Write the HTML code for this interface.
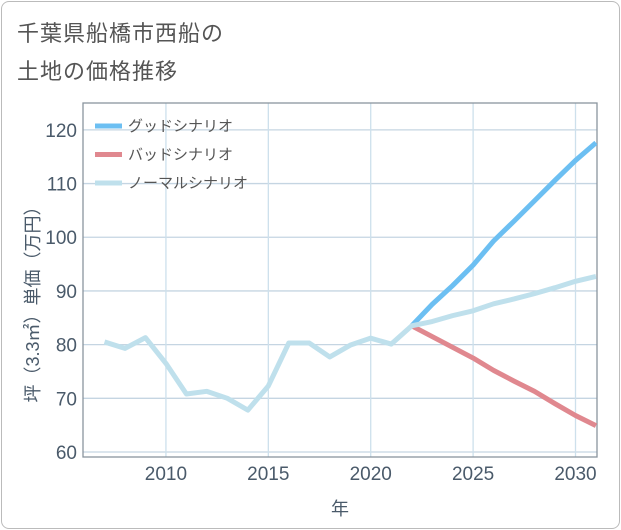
<!DOCTYPE html>
<html><head><meta charset="utf-8"><style>
body{margin:0;background:#fff;font-family:"Liberation Sans","Noto Sans CJK JP",sans-serif;}
#card{position:absolute;left:1px;top:1px;width:617px;height:526px;border:1px solid #bbb;border-radius:8px;background:#fff;}
.title{position:absolute;left:17px;font-size:22px;color:#555;letter-spacing:1px;}
</style></head><body>
<div id="card"></div>
<div class="title" style="top:16px">千葉県船橋市西船の</div>
<div class="title" style="top:54px">土地の価格推移</div>
<svg id="chart" width="621" height="530" style="position:absolute;left:0;top:0"></svg>
<script>
const years=[2007,2008,2009,2010,2011,2012,2013,2014,2015,2016,2017,2018,2019,2020,2021,2022,2023,2024,2025,2026,2027,2028,2029,2030,2031];
const normal=[80.5,79.3,81.3,76.5,70.8,71.3,70.0,67.8,72.3,80.3,80.3,77.7,79.9,81.2,80.1,83.5,84.3,85.4,86.3,87.6,88.5,89.5,90.6,91.8,92.7];
const futureYears=[2022,2023,2024,2025,2026,2027,2028,2029,2030,2031];
const good=[83.5,87.5,91.0,94.8,99.3,103.0,106.8,110.6,114.3,117.6];
const bad=[83.5,81.5,79.5,77.5,75.2,73.2,71.3,69.0,66.8,64.9];
const yTicks=[60,70,80,90,100,110,120];
const xTicks=[2010,2015,2020,2025,2030];
const L=83,R=597,T=103,B=457,X0=2005.95,X1=2031.05,Y0=59.07,Y1=125;
const xs=v=>L+(v-X0)/(X1-X0)*(R-L), ys=v=>B-(v-Y0)/(Y1-Y0)*(B-T);
const svg=document.getElementById('chart'),NS='http://www.w3.org/2000/svg';
function mk(t,a,p){const e=document.createElementNS(NS,t);for(const k in a)e.setAttribute(k,a[k]);(p||svg).appendChild(e);return e;}
const clip=mk('clipPath',{id:'pc'});mk('rect',{x:L,y:T,width:R-L,height:B-T},clip);
yTicks.forEach(v=>{const y=ys(v);
 const g=mk('line',{x1:L,x2:R,y1:y,y2:y,stroke:'#c5d5e2','stroke-width':1.3});
 
 const t=mk('text',{x:L-6,y:y+7,'text-anchor':'end','font-size':19,fill:'#4a5a6a'});t.textContent=v;
 });
xTicks.forEach(v=>{const x=xs(v);
 const g=mk('line',{x1:x,x2:x,y1:T,y2:B,stroke:'#cde0ec','stroke-width':1.3});
 
 const t=mk('text',{x:x,y:B+23,'text-anchor':'middle','font-size':19,fill:'#4a5a6a'});t.textContent=v;
 });
const fr=mk('rect',{x:L,y:T,width:R-L,height:B-T,fill:'none',stroke:'#8a949e','stroke-width':1.3});

function line(xv,yv,c,name){const p=mk('polyline',{points:xv.map((x,i)=>xs(x)+','+ys(yv[i])).join(' '),fill:'none',stroke:c,'stroke-width':5,'stroke-linejoin':'round','clip-path':'url(#pc)'});
 }
line(futureYears,bad,'#e0888f','bad-scenario-line');
line(futureYears,good,'#6cbff2','good-scenario-line');
line(years,normal,'#bfe0ec','normal-scenario-line');
[['グッドシナリオ','#6cbff2'],['バッドシナリオ','#e0888f'],['ノーマルシナリオ','#bfe0ec']].forEach((d,i)=>{const y=126+i*28.5;
 const l=mk('line',{x1:95,x2:122,y1:y,y2:y,stroke:d[1],'stroke-width':5});
 
 const t=mk('text',{x:128,y:y+5,'font-size':15,fill:'#555'});t.textContent=d[0];
 });
const yt=mk('text',{transform:'translate(39,300) rotate(-90)','text-anchor':'middle','font-size':18,fill:'#4a5a6a'});yt.textContent='坪（3.3㎡）単価（万円）';

const xt=mk('text',{x:340,y:515,'text-anchor':'middle','font-size':18,fill:'#4a5a6a'});xt.textContent='年';

</script>
</body></html>
